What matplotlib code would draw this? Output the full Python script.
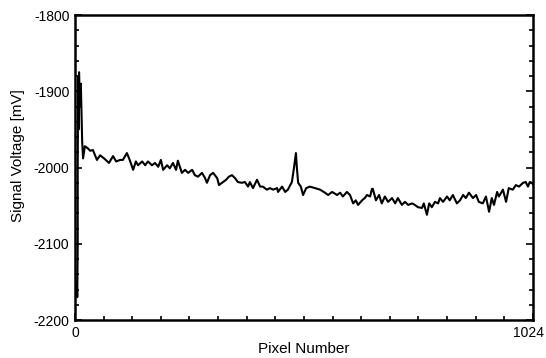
import matplotlib
matplotlib.use('Agg')
import matplotlib.pyplot as plt
import matplotlib.transforms as mtransforms
from matplotlib.ticker import MultipleLocator, FixedLocator

plt.rcParams['font.family'] = ['Liberation Sans', 'DejaVu Sans']
plt.rcParams['axes.unicode_minus'] = False

# signal (pixel number, mV)
pixel = [4, 5, 6, 6, 7, 8, 9, 11, 13, 16, 18, 22, 29, 34, 40, 49, 56, 65, 76, 85, 92,
         101, 107, 116, 121, 130, 136, 141, 150, 157, 163, 172, 179, 186, 192, 197,
         206, 212, 219, 226, 230, 239, 246, 253, 262, 268, 275, 284, 291, 295, 302,
         309, 318, 322, 331, 338, 344, 351, 358, 364, 373, 380, 387, 391, 398, 407,
         414, 420, 429, 436, 443, 452, 454, 463, 470, 476, 485, 490, 494, 496, 499,
         505, 510, 517, 525, 537, 548, 559, 566, 575, 586, 593, 599, 608, 615, 622,
         628, 633, 642, 648, 653, 660, 664, 666, 673, 680, 686, 693, 700, 709, 716,
         722, 731, 738, 745, 754, 760, 767, 776, 780, 787, 792, 798, 805, 812, 816,
         823, 832, 838, 845, 854, 861, 868, 874, 881, 890, 897, 903, 912, 919, 926,
         932, 937, 944, 948, 957, 964, 970, 979, 986, 993, 1002, 1008, 1013, 1017,
         1022, 1024]
voltage = [-2150, -2170, -2100, -2000, -1880, -1950, -1875, -1920, -1890, -1966, -1988,
           -1972, -1975, -1978, -1977, -1990, -1984, -1988, -1994, -1985, -1992,
           -1990, -1990, -1981, -1988, -2003, -1992, -1997, -1992, -1997, -1992,
           -1997, -1994, -1999, -1990, -2003, -1997, -2001, -1994, -2003, -1991,
           -2007, -2003, -2007, -2003, -2010, -2012, -2007, -2014, -2020, -2010,
           -2007, -2014, -2023, -2019, -2016, -2012, -2010, -2014, -2019, -2020,
           -2019, -2025, -2019, -2027, -2016, -2025, -2025, -2029, -2027, -2029,
           -2027, -2032, -2025, -2032, -2029, -2019, -1999, -1981, -1999, -2020,
           -2025, -2036, -2027, -2025, -2027, -2029, -2033, -2036, -2032, -2036,
           -2033, -2038, -2032, -2036, -2047, -2043, -2049, -2043, -2040, -2036,
           -2038, -2028, -2028, -2043, -2036, -2047, -2038, -2045, -2040, -2047,
           -2040, -2049, -2045, -2049, -2047, -2049, -2052, -2053, -2047, -2062,
           -2047, -2052, -2045, -2047, -2040, -2045, -2038, -2043, -2036, -2047,
           -2043, -2036, -2040, -2033, -2040, -2036, -2045, -2047, -2038, -2058,
           -2040, -2049, -2032, -2038, -2029, -2045, -2027, -2029, -2023, -2025,
           -2020, -2019, -2025, -2019, -2020, -2022]

fig = plt.figure(figsize=(5.46, 3.58), dpi=100)
ax = fig.add_axes([0.1374, 0.106, 0.8386, 0.852])
ax.plot(pixel, voltage, color='black', lw=1.5)

ax.set_xlim(0, 1024)
ax.set_ylim(-2200, -1800)
ax.xaxis.set_major_locator(FixedLocator([0, 1024]))
ax.xaxis.set_minor_locator(MultipleLocator(64))
ax.yaxis.set_major_locator(MultipleLocator(100))
ax.yaxis.set_minor_locator(MultipleLocator(20))
ax.tick_params(which='both', direction='in', right=True, top=False,
               labelsize=10, width=1.2, colors='black')
ax.tick_params(which='major', length=5, pad=4)
ax.tick_params(which='minor', length=3)
for s in ax.spines.values():
    s.set_linewidth(1.8)

# keep "1024" inside the picture
fig.canvas.draw()
lab = ax.get_xticklabels()[-1]
lab.set_transform(lab.get_transform() +
                  mtransforms.ScaledTranslation(-4 / 100, 0, fig.dpi_scale_trans))

ax.set_xlabel('Pixel Number', fontsize=11, labelpad=2)
ax.set_ylabel('Signal Voltage [mV]', fontsize=11, labelpad=4)
ax.yaxis.set_label_coords(-0.11, 0.54)

fig.savefig('out.png', dpi=100)
